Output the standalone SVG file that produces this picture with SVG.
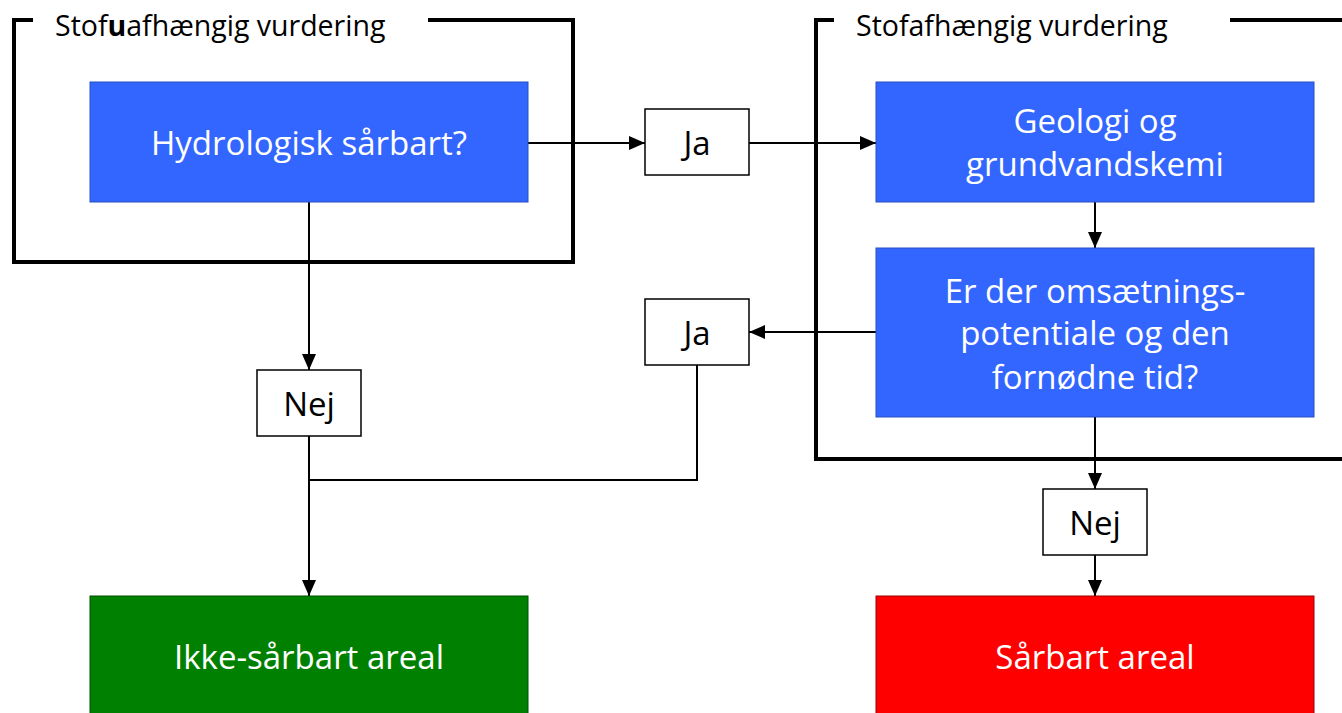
<svg xmlns="http://www.w3.org/2000/svg" width="1342" height="713" viewBox="0 0 1342 713">
<style>
.frame{fill:none;stroke:#000;stroke-width:4}
.blue{fill:#3366FF;stroke:#2850C0;stroke-width:1}
.lbl{fill:#fff;stroke:#000;stroke-width:1.5}
.t{font-family:"Open Sans",Lato,sans-serif;text-anchor:middle}
.w{fill:#fff;font-size:33px}
.k{fill:#000;font-size:33px}
.title{font-family:"Open Sans",Lato,sans-serif;font-size:28.5px;fill:#000}
.c{fill:none;stroke:#000;stroke-width:2}
</style>
<defs>
<marker id="b" markerWidth="16" markerHeight="16" refX="16" refY="8" orient="auto" markerUnits="userSpaceOnUse" viewBox="0 0 16 16">
<path d="M0,1 L16,8 L0,15 z" fill="#000"/>
</marker>
</defs>
<rect width="1342" height="713" fill="#fff"/>
<g id="frame-left">
<path class="frame" d="M33,20 H14 V262 H573 V20 H428"/>
<text class="title" x="55" y="36">Stof<tspan font-weight="bold">u</tspan>afhængig vurdering</text>
</g>
<g id="frame-right">
<path class="frame" d="M834,20 H816 V459 H1344"/>
<path class="frame" d="M1230,20 H1344"/>
<text class="title" x="856" y="36">Stofafhængig vurdering</text>
</g>
<g id="connectors">
<path class="c" d="M528,143 H645" marker-end="url(#b)"/>
<path class="c" d="M749,143 H876" marker-end="url(#b)"/>
<path class="c" d="M1095,202 V248" marker-end="url(#b)"/>
<path class="c" d="M876,332 H749" marker-end="url(#b)"/>
<path class="c" d="M697,365 V480 H309"/>
<path class="c" d="M309,202 V370" marker-end="url(#b)"/>
<path class="c" d="M309,436 V596" marker-end="url(#b)"/>
<path class="c" d="M1095,417 V489" marker-end="url(#b)"/>
<path class="c" d="M1095,555 V596" marker-end="url(#b)"/>
</g>
<g id="hydro">
<rect class="blue" x="90" y="82" width="438" height="120"/>
<text class="t w" x="309" y="155">Hydrologisk sårbart?</text>
</g>
<g id="ja1">
<rect class="lbl" x="645" y="109" width="104" height="66"/>
<text class="t k" x="697" y="155">Ja</text>
</g>
<g id="geologi">
<rect class="blue" x="876" y="82" width="438" height="120"/>
<text class="t w" x="1095" y="133">Geologi og</text>
<text class="t w" x="1095" y="176">grundvandskemi</text>
</g>
<g id="omsaetning">
<rect class="blue" x="876" y="248" width="438" height="169"/>
<text class="t w" x="1095" y="303">Er der omsætnings-</text>
<text class="t w" x="1095" y="345">potentiale og den</text>
<text class="t w" x="1095" y="389">fornødne tid?</text>
</g>
<g id="ja2">
<rect class="lbl" x="645" y="299" width="104" height="66"/>
<text class="t k" x="697" y="345">Ja</text>
</g>
<g id="nej1">
<rect class="lbl" x="257" y="370" width="104" height="66"/>
<text class="t k" x="309" y="416">Nej</text>
</g>
<g id="nej2">
<rect class="lbl" x="1043" y="489" width="104" height="66"/>
<text class="t k" x="1095" y="535">Nej</text>
</g>
<g id="ikke">
<rect x="90" y="596" width="438" height="130" fill="#008000" stroke="#005000" stroke-width="1"/>
<text class="t w" x="309" y="669">Ikke-sårbart areal</text>
</g>
<g id="saarbart">
<rect x="876" y="596" width="438" height="130" fill="#FF0000" stroke="#A00000" stroke-width="1"/>
<text class="t w" x="1095" y="669">Sårbart areal</text>
</g>
</svg>
